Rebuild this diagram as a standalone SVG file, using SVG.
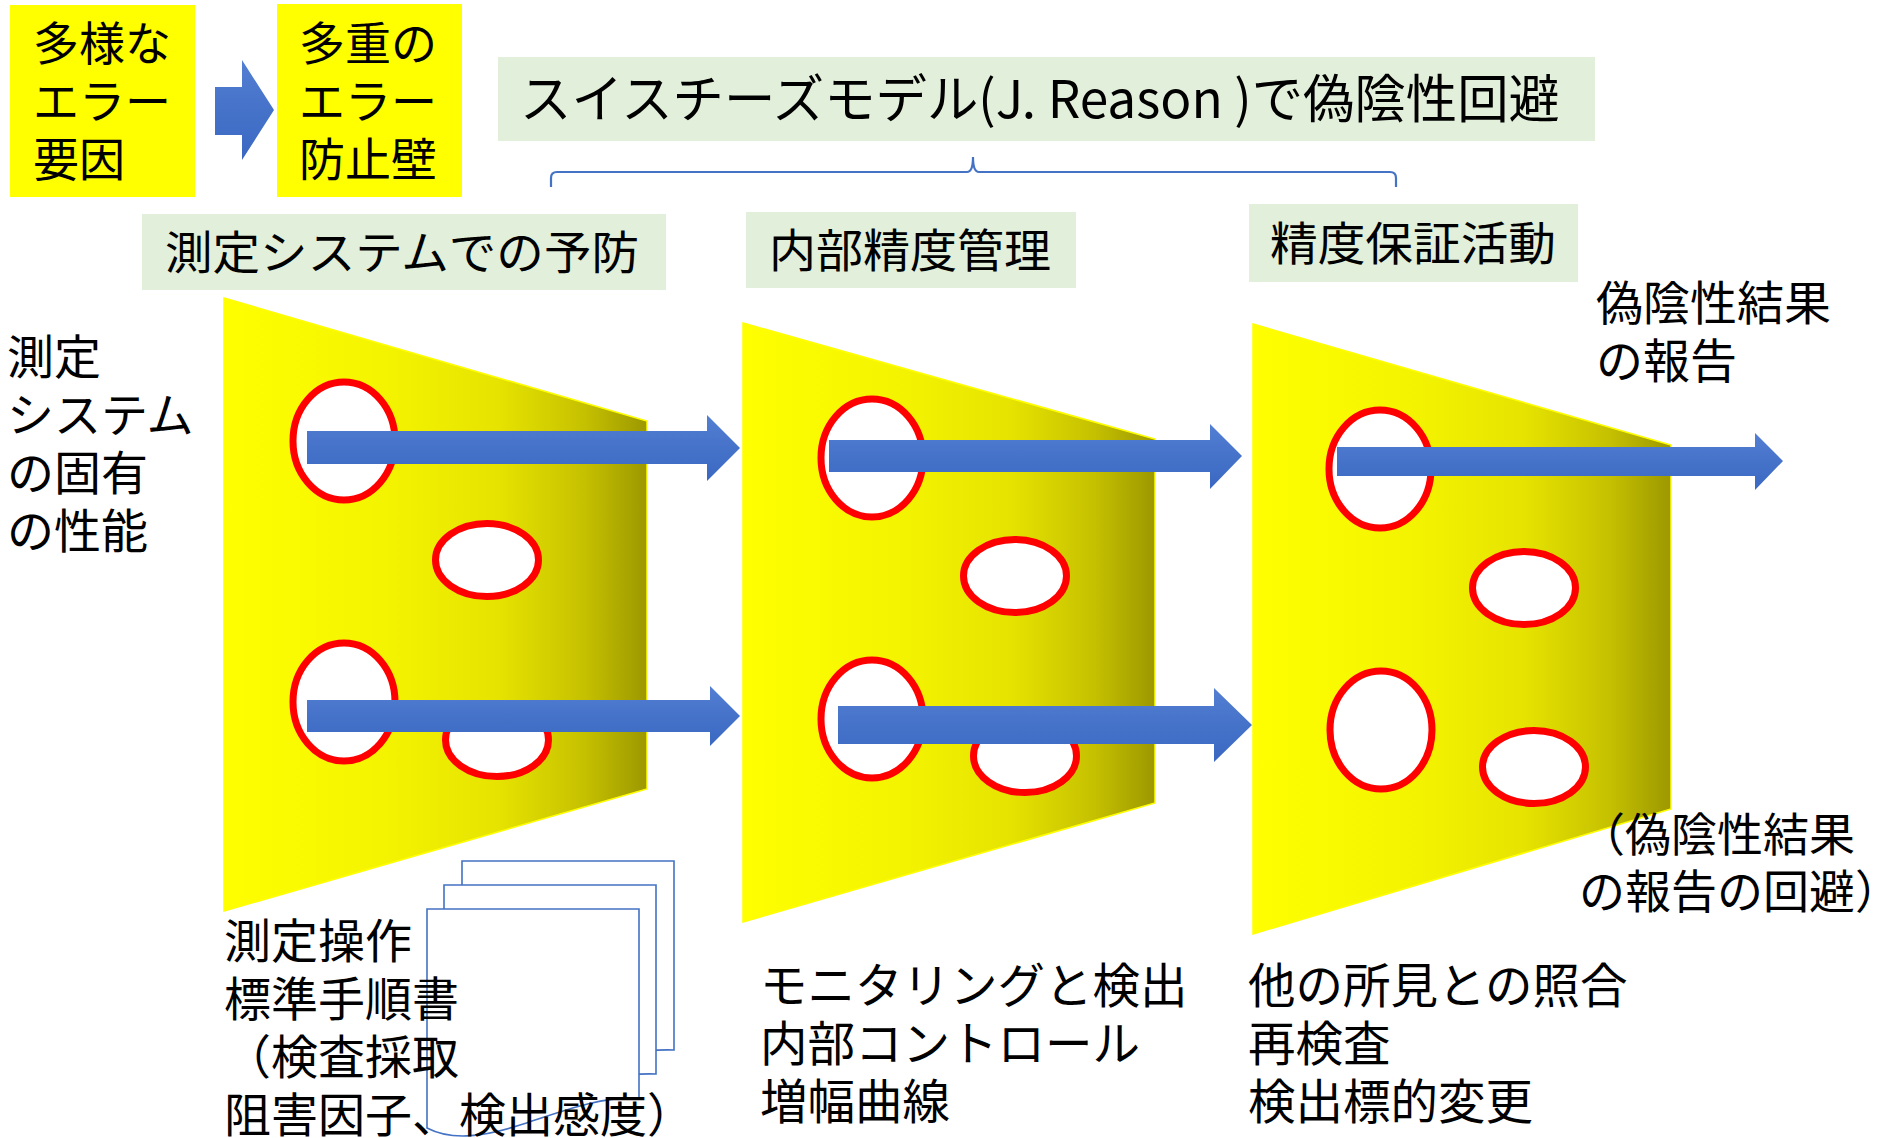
<svg xmlns="http://www.w3.org/2000/svg" xmlns:xlink="http://www.w3.org/1999/xlink" width="1890" height="1138" viewBox="0 0 1890 1138">
  <defs>
    <linearGradient id="cheese" x1="0" y1="0" x2="1" y2="0">
      <stop offset="0" stop-color="#FFFF00"/>
      <stop offset="0.4" stop-color="#F3F300"/>
      <stop offset="0.65" stop-color="#E6E300"/>
      <stop offset="0.85" stop-color="#C6C100"/>
      <stop offset="1" stop-color="#9C9800"/>
    </linearGradient>
    <linearGradient id="blue" x1="0" y1="0" x2="0" y2="1">
      <stop offset="0" stop-color="#527FD2"/>
      <stop offset="1" stop-color="#3A67C1"/>
    </linearGradient>
    <!-- single page of the stacked-documents symbol, origin at its top-left -->
    <path id="page" d="M0,0 H212 V189 C173,187 133,203 93,216 C53,229 23,231 0,219 Z"/>
    <style>
      .t { font-family: "Noto Sans CJK JP", "Noto Sans", sans-serif; fill: #000; }
      .f46 { font-size: 46px; }
      .f47 { font-size: 47px; }
      .f48 { font-size: 47.5px; }
      .yellow { fill: #FFFF00; }
      .green { fill: #E2EFDA; }
      .slice { fill: url(#cheese); stroke: #FFFF00; stroke-width: 1.5; }
      .hole { fill: #FFFFFF; stroke: #FF0000; stroke-width: 7; }
      .arrow { fill: url(#blue); }
      .doc { fill: #FFFFFF; stroke: #4472C4; stroke-width: 1.6; }
      .brace { fill: none; stroke: #4472C4; stroke-width: 2.2; }
    </style>
  </defs>

  <rect width="1890" height="1138" fill="#FFFFFF"/>

  <!-- header: error factors -> error barriers -->
  <g id="error-factors">
    <rect class="yellow" x="10" y="5" width="185" height="192"/>
    <text class="t f46" x="33" y="60">多様な<tspan x="33" dy="58">エラー</tspan><tspan x="33" dy="58">要因</tspan></text>
  </g>
  <g id="header-arrow">
    <polygon class="arrow" points="215,87 242,87 242,60 274,110 242,160 242,135 215,135"/>
  </g>
  <g id="error-barriers">
    <rect class="yellow" x="277" y="4" width="185" height="193"/>
    <text class="t f46" x="299" y="60">多重の<tspan x="299" dy="58">エラー</tspan><tspan x="299" dy="58">防止壁</tspan></text>
  </g>

  <g id="title">
    <rect class="green" x="498" y="57" width="1097" height="84"/>
    <text class="t" font-size="52" x="520" y="118" textLength="1040" lengthAdjust="spacingAndGlyphs">スイスチーズモデル(J. Reason )で偽陰性回避</text>
  </g>

  <g id="brace">
    <path class="brace" d="M551,187 V178 Q551,172 557,172 H967 Q973,172 973,157 Q973,172 979,172 H1390 Q1396,172 1396,178 V187"/>
  </g>

  <!-- stage labels -->
  <g id="label-prevention">
    <rect class="green" x="142" y="214" width="524" height="76"/>
    <text class="t f46" x="165" y="269" textLength="474" lengthAdjust="spacingAndGlyphs">測定システムでの予防</text>
  </g>
  <g id="label-iqc">
    <rect class="green" x="746" y="212" width="330" height="76"/>
    <text class="t f46" x="769" y="267" textLength="282" lengthAdjust="spacingAndGlyphs">内部精度管理</text>
  </g>
  <g id="label-qa">
    <rect class="green" x="1249" y="204" width="329" height="78"/>
    <text class="t f46" x="1270" y="260" textLength="286" lengthAdjust="spacingAndGlyphs">精度保証活動</text>
  </g>

  <!-- cheese slices with holes -->
  <g id="slice-1">
    <path class="slice" d="M224,298 L647,421 L647,789 L224,911 Z"/>
    <ellipse class="hole" cx="344" cy="441" rx="51" ry="59"/>
    <ellipse class="hole" cx="487" cy="560" rx="51.5" ry="36.5"/>
    <ellipse class="hole" cx="344" cy="702" rx="51" ry="59"/>
    <ellipse class="hole" cx="497" cy="740" rx="51.5" ry="36.5"/>
  </g>
  <g id="slice-2">
    <path class="slice" d="M743,323 L1155,439 L1155,803 L743,922 Z"/>
    <ellipse class="hole" cx="872" cy="458" rx="51" ry="59"/>
    <ellipse class="hole" cx="1015" cy="576" rx="51.5" ry="36.5"/>
    <ellipse class="hole" cx="872" cy="719" rx="51" ry="59"/>
    <ellipse class="hole" cx="1025" cy="756" rx="51.5" ry="36.5"/>
  </g>
  <g id="slice-3">
    <path class="slice" d="M1253,324 L1671,445 L1671,809 L1253,934 Z"/>
    <ellipse class="hole" cx="1380" cy="469" rx="51" ry="59"/>
    <ellipse class="hole" cx="1524" cy="588" rx="51.5" ry="36.5"/>
    <ellipse class="hole" cx="1381" cy="730" rx="51" ry="59"/>
    <ellipse class="hole" cx="1534" cy="767" rx="51.5" ry="36.5"/>
  </g>

  <!-- error trajectories through the holes -->
  <g id="connectors">
    <polygon class="arrow" points="307,431 707,431 707,415 740,448 707,481 707,464 307,464"/>
    <polygon class="arrow" points="307,700 710,700 710,686 740,716 710,746 710,732 307,732"/>
    <polygon class="arrow" points="829,440 1210,440 1210,424 1242,456 1210,489 1210,472 829,472"/>
    <polygon class="arrow" points="838,706 1214,706 1214,688 1252,725 1214,762 1214,744 838,744"/>
    <polygon class="arrow" points="1337,447 1755,447 1755,433 1783,461 1755,490 1755,476 1337,476"/>
  </g>

  <g id="label-inherent">
    <text class="t f47" x="7" y="374">測定<tspan x="7" dy="58">システム</tspan><tspan x="7" dy="58">の固有</tspan><tspan x="7" dy="58">の性能</tspan></text>
  </g>

  <g id="label-reported">
    <text class="t f47" x="1596" y="320">偽陰性結果<tspan x="1596" dy="58">の報告</tspan></text>
  </g>
  <g id="label-avoided">
    <text class="t f46" x="1579" y="851">（偽陰性結果<tspan x="1579" dy="57">の報告の回避）</tspan></text>
  </g>

  <!-- stacked procedure documents -->
  <g id="documents">
    <use xlink:href="#page" href="#page" class="doc" x="462" y="861"/>
    <use xlink:href="#page" href="#page" class="doc" x="444" y="885"/>
    <use xlink:href="#page" href="#page" class="doc" x="427" y="909"/>
  </g>

  <g id="label-sop">
    <text class="t f47" x="224" y="958">測定操作<tspan x="224" dy="58">標準手順書</tspan><tspan x="224" dy="58">（検査採取</tspan><tspan x="224" dy="58">阻害因子、検出感度）</tspan></text>
  </g>

  <g id="label-monitoring">
    <text class="t f48" x="760" y="1003">モニタリングと検出<tspan x="760" dy="58">内部コントロール</tspan><tspan x="760" dy="58">増幅曲線</tspan></text>
  </g>

  <g id="label-verification">
    <text class="t f48" x="1248" y="1003">他の所見との照合<tspan x="1248" dy="58">再検査</tspan><tspan x="1248" dy="58">検出標的変更</tspan></text>
  </g>
</svg>
